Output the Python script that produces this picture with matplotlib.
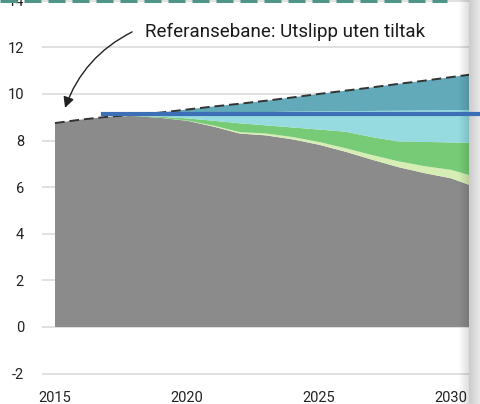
import numpy as np
import matplotlib
matplotlib.use("Agg")
import matplotlib.pyplot as plt
from matplotlib.lines import Line2D

plt.rcParams['font.family'] = ['Roboto', 'DejaVu Sans']
plt.rcParams['axes.unicode_minus'] = False

# emissions path (Mt CO2-eq)
years = list(range(2015, 2032))
remaining = [8.75, 8.9, 9.02, 9.05, 8.97, 8.85, 8.6, 8.3, 8.22, 8.05, 7.82, 7.52, 7.18, 6.86, 6.6, 6.38, 5.97]
pale = [0, 0, 0, 0, 0, 0.01, 0.04, 0.06, 0.08, 0.1, 0.12, 0.15, 0.2, 0.25, 0.3, 0.36, 0.45]
green = [0, 0, 0, 0.01, 0.05, 0.09, 0.21, 0.38, 0.35, 0.41, 0.53, 0.71, 0.77, 0.85, 1.04, 1.18, 1.48]
cyan = [0, 0, 0, 0.01, 0.07, 0.15, 0.28, 0.44, 0.57, 0.68, 0.78, 0.88, 1.12, 1.32, 1.35, 1.38, 1.41]
teal = [0, 0, 0, 0.03, 0.11, 0.23, 0.33, 0.4, 0.49, 0.61, 0.75, 0.88, 1.01, 1.15, 1.28, 1.42, 1.56]
target_x = [2016.8, 2032.0]
target_y = [9.12, 9.12]
yticks = [-2, 0, 2, 4, 6, 8, 10, 12, 14]
xticks = [2015, 2020, 2025, 2030]

colors = ['#8b8b8b', '#d6eeb6', '#77cb76', '#95dbe0', '#62a9b9']

W, H = 481, 404
fig = plt.figure(figsize=(W / 100, H / 100), dpi=100)
ax = fig.add_axes([42 / W, (H - 380) / H, (469 - 42) / W, 380 / H])

ax.stackplot(years, remaining, pale, green, cyan, teal, colors=colors, lw=0, zorder=2)
ref = np.sum([remaining, pale, green, cyan, teal], axis=0)
ax.plot(years, ref, color='#333333', lw=1.4, dashes=(5, 2.5), zorder=3)

ax.set_xlim(2014.508, 2030.68)
ax.set_ylim(-2.275, 14.03)
ax.set_yticks(yticks)
ax.set_xticks(xticks)
ax.tick_params(axis='both', length=0, labelsize=10.5, colors='#222222')
ax.tick_params(axis='y', pad=13)
ax.tick_params(axis='x', pad=8)
ax.grid(axis='y', color='#d9d9d9', lw=1.1, zorder=0)
ax.set_axisbelow(True)
for s in ax.spines.values():
    s.set_visible(False)

ax.text(2018.4, 12.66, 'Referansebane: Utslipp uten tiltak', fontsize=13.5,
        color='#1a1a1a', va='center', ha='left')
ax.annotate('', xy=(2015.38, 9.4), xytext=(2017.92, 12.66),
            arrowprops=dict(arrowstyle='-|>', color='#222222', lw=1.0, mutation_scale=16,
                            shrinkA=0, shrinkB=0, connectionstyle='arc3,rad=0.2'))

# teal dashed strip at the very top (from element above)
fig.add_artist(Line2D([0, 447 / W], [1 - 0.3 / H, 1 - 0.3 / H], transform=fig.transFigure,
                      color='#4e9488', lw=3.6, dashes=(3.4, 1.4), zorder=4))

# page shadow on the right edge
sx0, sx1 = 458, 481
grad = np.zeros((1, sx1 - sx0, 4))
for i in range(sx1 - sx0):
    x = sx0 + i
    if x < 469:
        grad[0, i] = [0, 0, 0, 0.14 * (x - sx0) / (469 - sx0)]
    else:
        t = (x - 469) / (sx1 - 469)
        g = 0.80 + 0.13 * t
        grad[0, i] = [g, g, g, 1]
sax = fig.add_axes([sx0 / W, 0, (sx1 - sx0) / W, 1], zorder=3)
sax.imshow(grad, aspect='auto', interpolation='bilinear')
sax.axis('off')

# 2030 target line, drawn over the shadow
fig.add_artist(Line2D(target_x, target_y, transform=ax.transData, color='#3d6fb6', lw=3.0, zorder=5))

fig.savefig('out.png', dpi=100)
